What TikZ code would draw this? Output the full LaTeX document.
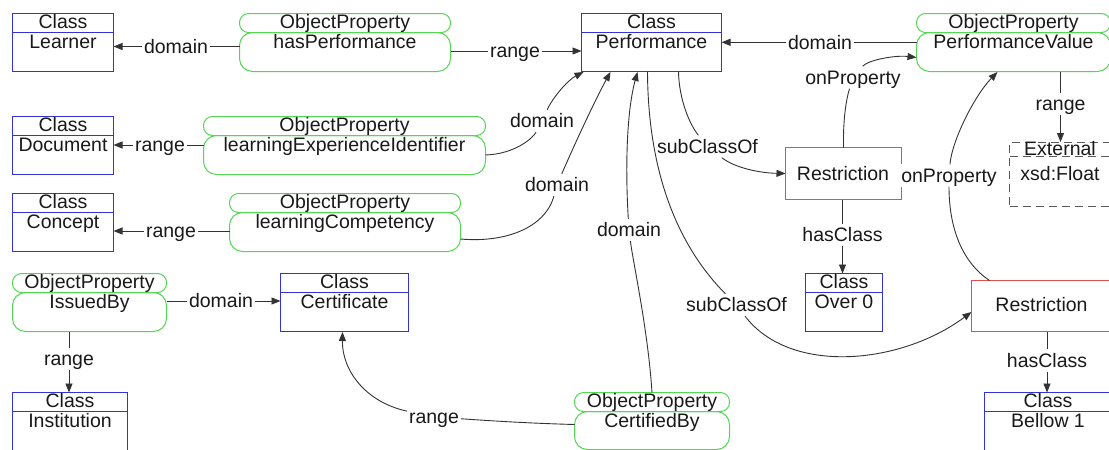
\documentclass[tikz,border=0pt]{standalone}
\usepackage{fontspec}
\setmainfont{Liberation Sans}
\usetikzlibrary{arrows.meta,calc}
\definecolor{clsblue}{RGB}{50,50,215}
\definecolor{propgreen}{RGB}{85,215,85}
\definecolor{restrred}{RGB}{225,80,80}
\definecolor{extgray}{RGB}{90,90,90}
\newcommand{\dfont}{\fontsize{19.5}{22}\selectfont}
\tikzset{
  clsbox/.style={draw=clsblue, line width=1pt, inner sep=0pt, outer sep=0pt},
  pilltop/.style={draw=propgreen, line width=1pt, rounded corners=9pt, inner sep=0pt, outer sep=0pt},
  pillbot/.style={draw=propgreen, line width=1pt, rounded corners=13pt, inner sep=0pt, outer sep=0pt},
  restr/.style={draw=restrred, line width=1.2pt, inner sep=0pt, outer sep=0pt},
  extbox/.style={draw=extgray, line width=1pt, dash pattern=on 8pt off 5pt, inner sep=0pt, outer sep=0pt},
  boxtxt/.style={anchor=base, inner sep=0pt, font=\dfont, text=black!90},
  lbl/.style={font=\dfont, fill=white, text=black!90, inner xsep=2pt, inner ysep=1pt, text height=17pt, text depth=3.4pt, outer sep=0pt},
  conn/.style={draw=black!80, line width=0.9pt},
  arr/.style={conn, -{Triangle[length=9pt,width=7pt]}}
}
\newcommand{\clsnode}[6]{%
  \node[clsbox, minimum width={(#4)-(#2)}, minimum height={(#5)-(#3)}] (#1) at ({((#2)+(#4))/2},{((#3)+(#5))/2}) {};
  \draw[clsbox] ($(#1.north west)+(0,19)$) -- ($(#1.north east)+(0,19)$);
  \node[boxtxt] (#1-h) at ({((#2)+(#4))/2},{(#3)+15}) {Class};
  \node[boxtxt] (#1-n) at ({((#2)+(#4))/2},{(#3)+35}) {#6};}
\newcommand{\propnode}[6]{%
  \node[pilltop, minimum width={(#4)-(#2)}, minimum height=19] (#1-top) at ({((#2)+(#4))/2},{(#3)+9.5}) {};
  \node[pillbot, minimum width={(#4)-(#2)}, minimum height={(#5)-(#3)-19}] (#1) at ({((#2)+(#4))/2},{((#3)+19+(#5))/2}) {};
  \node[boxtxt] (#1-h) at ({((#2)+(#4))/2},{(#3)+15}) {ObjectProperty};
  \node[boxtxt] (#1-n) at ({((#2)+(#4))/2},{(#3)+35}) {#6};}
\begin{document}
\begin{tikzpicture}[x=1pt,y=-1pt]
\path[use as bounding box] (0,0) rectangle (1109,450);
\clip (0,0) rectangle (1109,450);
\fill[white] (0,0) rectangle (1109,450);
% restrictions
\node[restr, minimum width=116, minimum height=52] (r1) at (843.5,173.5) {};
\node[restr, minimum width=141, minimum height=51] (r2) at (1042,306) {};
\node[boxtxt] (r1-t) at (843,180) {Restriction};
\node[boxtxt] (r2-t) at (1041.5,311) {Restriction};
% external
\node[extbox, minimum width=103, minimum height=64] (ext) at (1061,174) {};
\draw[extbox] ($(ext.north west)+(0,14)$) -- ($(ext.north east)+(0,14)$);
\node[boxtxt] (ext-h) at (1060,155) {External};
\node[boxtxt] (ext-n) at (1060,180) {xsd:Float};
% classes
\clsnode{learner}{12.5}{13.5}{113.5}{71.5}{Learner}
\clsnode{doc}{12.5}{116.5}{113.5}{174.5}{Document}
\clsnode{concept}{12.5}{193.5}{113.5}{251.5}{Concept}
\clsnode{perf}{581.5}{13.5}{721.5}{71.5}{Performance}
\clsnode{cert}{280.5}{273.5}{408.5}{331.5}{Certificate}
\clsnode{inst}{12.5}{392.5}{127.5}{451.5}{Institution}
\clsnode{over}{805.5}{273.5}{882.5}{331.5}{Over 0}
\clsnode{bellow}{984.5}{392.5}{1111.5}{451.5}{Bellow 1}
% properties
\propnode{hp}{239.5}{13.5}{450.5}{71.5}{hasPerformance}
\propnode{lei}{203.5}{116.5}{485.5}{174.5}{learningExperienceIdentifier}
\propnode{lc}{229.5}{193.5}{460.5}{251.5}{learningCompetency}
\propnode{issued}{12.5}{273.5}{166.5}{331.5}{IssuedBy}
\propnode{cb}{574.5}{392.5}{729.5}{449.5}{CertifiedBy}
\propnode{pv}{916.5}{13.5}{1110.5}{71.5}{PerformanceValue}
% labels
\node[lbl] (l1) at (176,46.5) {domain};
\node[lbl] (l2) at (515,51) {range};
\node[lbl] (l3) at (160,145) {range};
\node[lbl] (l4) at (171,231) {range};
\node[lbl] (l5) at (542,121) {domain};
\node[lbl] (l6) at (557,185) {domain};
\node[lbl] (l7) at (629,230) {domain};
\node[lbl] (l8) at (707.5,146.5) {subClassOf};
\node[lbl] (l9) at (736.5,305) {subClassOf};
\node[lbl] (l10) at (853,77.5) {onProperty};
\node[lbl] (l11) at (949,175.5) {onProperty};
\node[lbl] (l12) at (842.5,235) {hasClass};
\node[lbl] (l13) at (1047,360.5) {hasClass};
\node[lbl] (l14) at (1060.5,104) {range};
\node[lbl] (l15) at (221,301) {domain};
\node[lbl] (l16) at (69,359) {range};
\node[lbl] (l17) at (434,417) {range};
\node[lbl] (l18) at (820,42.3) {domain};
% connectors
\draw[conn] (hp.west |- l1) -- (l1);
\draw[arr] (l1) -- (l1 -| learner.east);
\draw[conn] (hp.east |- l2) -- (l2);
\draw[arr] (l2) -- (l2 -| perf.west);
\draw[conn] (lei.west |- l3) -- (l3);
\draw[arr] (l3) -- (l3 -| doc.east);
\draw[conn] (lc.west |- l4) -- (l4);
\draw[arr] (l4) -- (l4 -| concept.east);
\draw[conn] (lei.east) .. controls (515,154) and (533,138) .. (l5);
\draw[arr] (l5) .. controls (553,97) and (568,80) .. ($(perf.south west)+(2,0.5)$);
\draw[conn] ($(lc.east)+(0,7)$) .. controls (505,243) and (545,228) .. (l6);
\draw[arr] (l6) .. controls (572,150) and (595,100) .. ($(perf.south west)+(29,0.5)$);
\draw[conn] (cb-top.north) .. controls (648,330) and (633,262) .. (l7);
\draw[arr] (l7) .. controls (625,165) and (627,110) .. ($(perf.south west)+(56,0.5)$);
\draw[conn] ($(perf.south west)+(97,0)$) .. controls (679,100) and (690,125) .. (l8);
\draw[arr] (l8) .. controls (735,168) and (760,173) .. (r1.west);
\draw[conn] ($(perf.south west)+(66,0)$) .. controls (648,180) and (682,250) .. (l9);
\draw[arr] (l9) .. controls (790,375) and (900,365) .. ($(r2.west)+(0,6)$);
\draw[conn] (r1.north) .. controls (843,120) and (846,100) .. (l10);
\draw[arr] (l10) .. controls (868,60) and (895,55) .. ($(pv.west)+(0,5.5)$);
\draw[conn] ($(r2.north west)+(18,0)$) .. controls (962,262) and (949,228) .. (l11);
\draw[arr] (l11) .. controls (952,140) and (975,95) .. ($(pv.south west)+(81,0.5)$);
\draw[conn] (l12 |- r1.south) -- (l12);
\draw[arr] (l12) -- (l12 |- over.north);
\draw[conn] (l13 |- r2.south) -- (l13);
\draw[arr] (l13) -- (l13 |- bellow.north);
\draw[conn] (l14 |- pv.south) -- (l14);
\draw[arr] (l14) -- (l14 |- ext.north);
\draw[conn] (issued.east |- l15) -- (l15);
\draw[arr] (l15) -- (l15 -| cert.west);
\draw[conn] (l16 |- issued.south) -- (l16);
\draw[arr] (l16) -- (l16 |- inst.north);
\draw[conn] ($(cb.west)+(0,-6)$) .. controls (520,423) and (480,420) .. (l17);
\draw[arr] (l17) .. controls (365,402) and (342,370) .. ($(cert.south west)+(62,0.5)$);
\draw[conn] (pv.west |- l18) -- (l18);
\draw[arr] (l18) -- (l18 -| perf.east);
\end{tikzpicture}
\end{document}
